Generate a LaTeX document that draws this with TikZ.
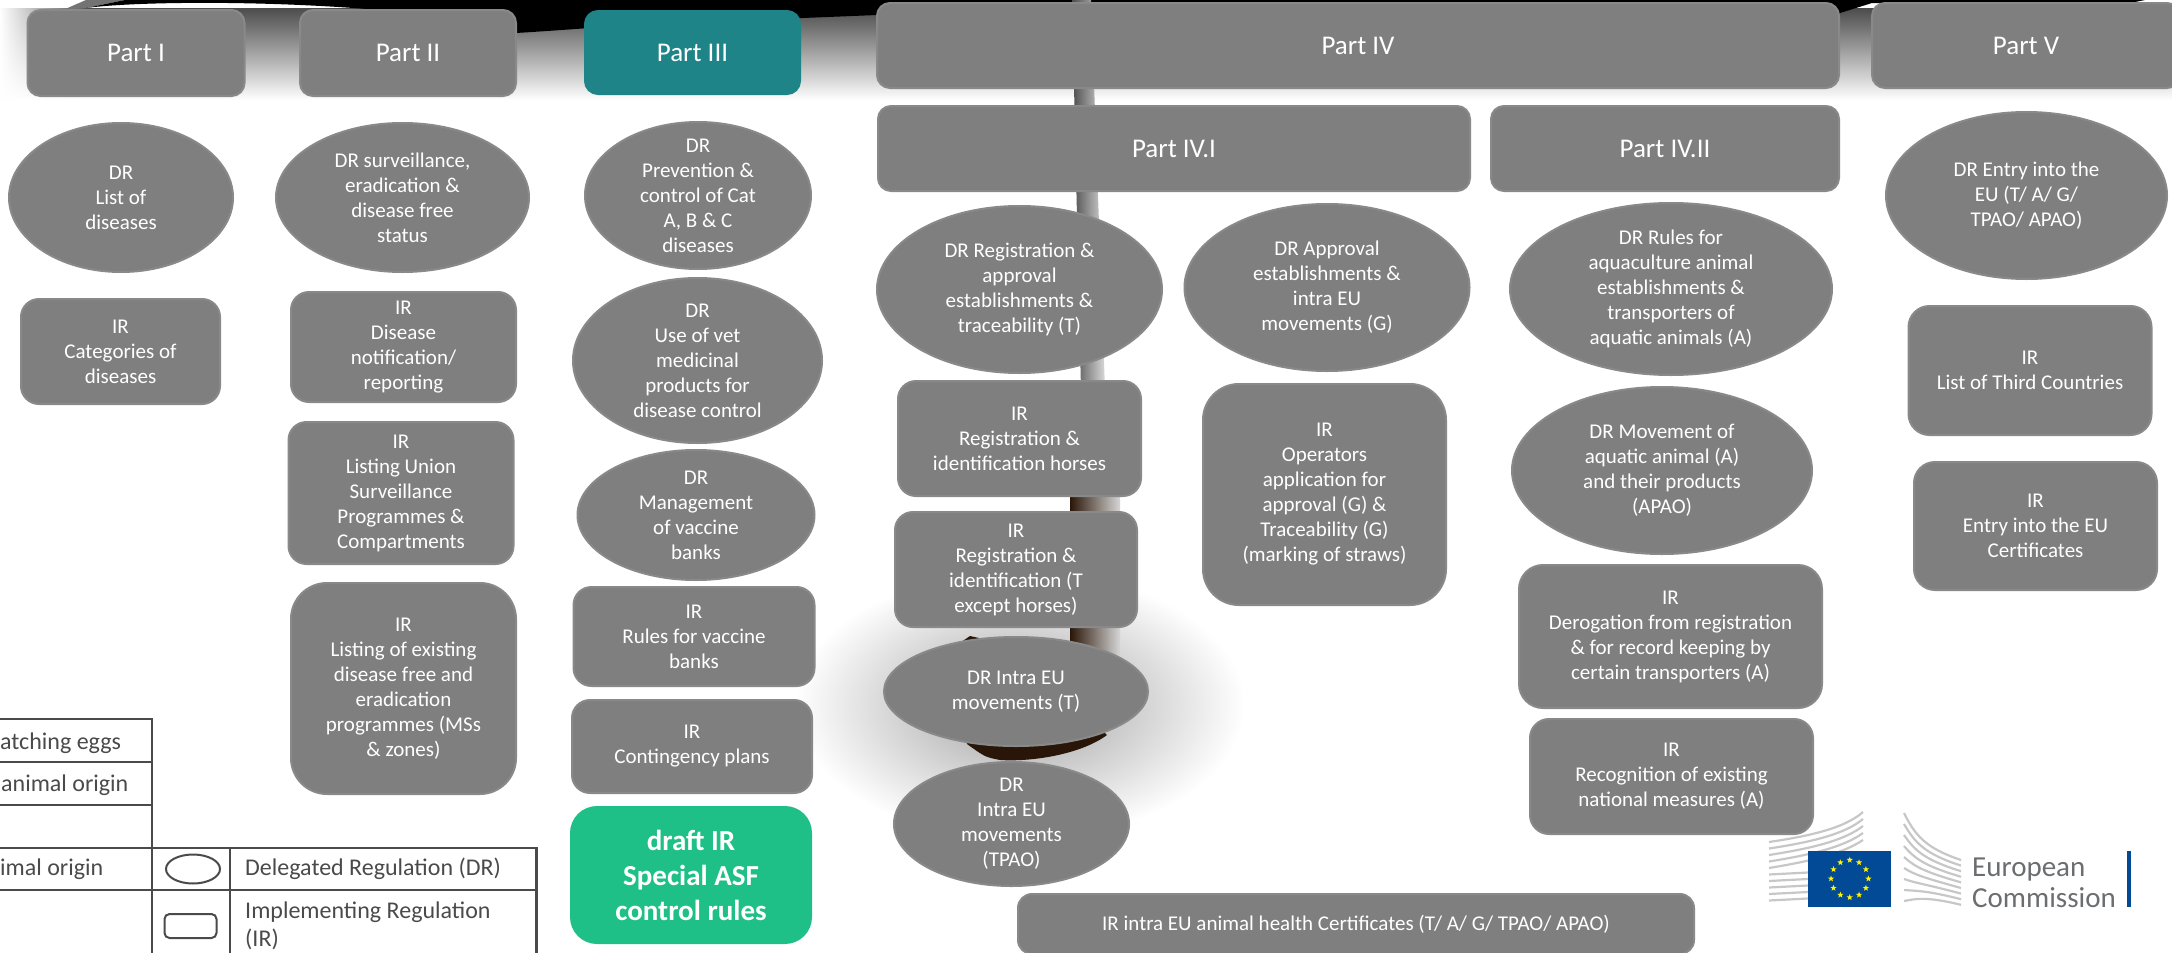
\documentclass[tikz,border=0pt]{standalone}
\usepackage{fontspec}
\setmainfont{Carlito}
\usetikzlibrary{shapes.geometric, fadings}
\definecolor{boxgray}{HTML}{7F7F7F}
\definecolor{boxline}{HTML}{898989}
\definecolor{partteal}{HTML}{1E8488}
\definecolor{draftgreen}{HTML}{1FC088}
\definecolor{tabline}{HTML}{4A4A4A}
\definecolor{eublue}{HTML}{034A96}
\definecolor{eugray}{HTML}{6B6D70}
\definecolor{polebrown}{HTML}{2A1608}

\begin{document}
\begin{tikzpicture}[
        x=1pt, y=-1pt,
        every node/.style={text=white, align=center, font=\fontsize{21}{25}\selectfont},
        partbox/.style={rectangle, rounded corners=13pt, fill=boxgray, draw=boxline, line width=2pt, font=\fontsize{27}{31}\selectfont},
        irnode/.style={rectangle, rounded corners=#1, fill=boxgray, draw=boxline, line width=2pt, inner sep=0pt},
        irnode/.default=18pt,
        drnode/.style={ellipse, fill=boxgray, draw=boxline, line width=2pt, inner sep=-30pt},
        tabtext/.style={text=tabline, anchor=west, align=left, inner sep=0pt, font=\fontsize{24}{28}\selectfont},
        tabrule/.style={tabline, line width=2.4pt},
        eustar/.style={star, star points=5, star point ratio=2.4, fill=yellow, minimum size=6.5pt, inner sep=0pt},
        stripe/.style={black!22, line width=2.2pt}
    ]
        \useasboundingbox (0,0) rectangle (2172,953);

        % Background: shadow at the top
        \shade[top color=black!70, middle color=black!22, bottom color=white] (0,8) rectangle (2172,100);
        \fill[white, path fading=east] (0,0) rectangle (90,110);
        \fill[black!55] (63,10) -- (86,0) -- (125,0) -- (86,8) -- cycle;
        \fill[black] (86,8) .. controls (130,2) and (250,0) .. (367,9)
            .. controls (430,20) and (480,32) .. (516,33)
            .. controls (600,28) and (700,18) .. (803,18)
            -- (877,15) -- (1840,13) -- (1872,3) -- (2130,3) -- (2145,0) -- (125,0) -- cycle;

        % Background: pole and its shadow
        \shade[left color=white, middle color=black!10, right color=white] (920,100) rectangle (1250,620);
        \shade[inner color=black!38, outer color=white] (1020,705) ellipse [x radius=225, y radius=135];
        \shade[left color=black!70, middle color=black!50, right color=black!15] (1072,0) -- (1091,0) -- (1105,390) -- (1081,390) -- cycle;
        \shade[left color=polebrown, middle color=polebrown!80!white, right color=black!16] (1070,480) rectangle (1120,690);
        \fill[polebrown] (957,645) -- (970,636) -- (1010,645) -- (1107,735) .. controls (1080,755) and (1030,762) .. (1000,760) .. controls (985,757) .. (967,744) -- cycle;

        % Part headers
        \node[partbox, minimum width=217pt, minimum height=86pt] (P1) at (136,53) {Part I};
        \node[partbox, minimum width=216pt, minimum height=86pt] (P2) at (408,53) {Part II};
        \node[partbox, fill=partteal, draw=partteal, minimum width=215pt, minimum height=83pt] (P3) at (692.5,52.5) {Part III};
        \node[partbox, minimum width=962pt, minimum height=85pt] (P4) at (1358,45.5) {Part IV};
        \node[partbox, minimum width=308pt, minimum height=85pt] (P5) at (2026,45.5) {Part V};
        \node[partbox, minimum width=592pt, minimum height=85pt] (P41) at (1174,148.5) {Part IV.I};
        \node[partbox, minimum width=348pt, minimum height=85pt] (P42) at (1665,148.5) {Part IV.II};

        % Part I
        \node[drnode, minimum width=224pt, minimum height=149pt] (DR1) at (121,197.5) {DR\\List of\\diseases};
        \node[irnode, minimum width=199pt, minimum height=105pt] (IR1) at (120.5,351.5) {IR\\Categories of\\diseases};

        % Part II
        \node[drnode, minimum width=253pt, minimum height=149pt] (DR2) at (402.5,197.5) {DR surveillance,\\eradication \&\\disease free\\status};
        \node[irnode, minimum width=225pt, minimum height=110pt] (IR2) at (403.5,347) {IR\\Disease\\notification/\\reporting};
        \node[irnode, minimum width=225pt, minimum height=142pt] (IR3) at (401,493) {IR\\Listing Union\\Surveillance\\Programmes \&\\Compartments};
        \node[irnode=36pt, minimum width=225pt, minimum height=211pt] (IR4) at (403.5,688.5) {IR\\Listing of existing\\disease free and\\eradication\\programmes (MSs\\\& zones)};

        % Part III
        \node[drnode, minimum width=226pt, minimum height=147pt] (DR3) at (698,195.5) {DR\\Prevention \&\\control of Cat\\A, B \& C\\diseases};
        \node[drnode, minimum width=249pt, minimum height=165pt] (DR4) at (697.5,360.5) {DR\\Use of vet\\medicinal\\products for\\disease control};
        \node[drnode, minimum width=237pt, minimum height=130pt] (DR5) at (696,515) {DR\\Management\\of vaccine\\banks};
        \node[irnode, minimum width=241pt, minimum height=99pt] (IR5) at (694,636.5) {IR\\Rules for vaccine\\banks};
        \node[irnode, minimum width=240pt, minimum height=93pt] (IR6) at (692,746.5) {IR\\Contingency plans};
        \node[irnode=26pt, fill=draftgreen, draw=draftgreen, minimum width=240pt, minimum height=136pt, font=\bfseries\fontsize{29}{35}\selectfont] (IR7) at (691,875) {draft IR\\Special ASF\\control rules};

        % Part IV.I
        \node[drnode, minimum width=285pt, minimum height=167pt] (DR6) at (1019.5,289.5) {DR Registration \&\\approval\\establishments \&\\traceability (T)};
        \node[drnode, minimum width=285pt, minimum height=167pt] (DR7) at (1327,287.5) {DR Approval\\establishments \&\\intra EU\\movements (G)};
        \node[irnode, minimum width=243pt, minimum height=115pt] (IR8) at (1019.5,438.5) {IR\\Registration \&\\identification horses};
        \node[irnode=36pt, minimum width=243pt, minimum height=221pt] (IR9) at (1324.5,494.5) {IR\\Operators\\application for\\approval (G) \&\\Traceability (G)\\(marking of straws)};
        \node[irnode, minimum width=242pt, minimum height=115pt] (IR10) at (1016,569.5) {IR\\Registration \&\\identification (T\\except horses)};
        \node[drnode, minimum width=264pt, minimum height=109pt] (DR8) at (1016,691.5) {DR Intra EU\\movements (T)};
        \node[drnode, minimum width=235pt, minimum height=124pt] (DR9) at (1011.5,824) {DR\\Intra EU\\movements\\(TPAO)};
        \node[irnode=14pt, minimum width=676pt, minimum height=60pt] (IR11) at (1356,924) {IR intra EU animal health Certificates (T/ A/ G/ TPAO/ APAO)};

        % Part IV.II
        \node[drnode, minimum width=322pt, minimum height=172pt] (DR10) at (1671,289) {DR Rules for\\aquaculture animal\\establishments \&\\transporters of\\aquatic animals (A)};
        \node[drnode, minimum width=300pt, minimum height=167pt] (DR11) at (1662,470.5) {DR Movement of\\aquatic animal (A)\\and their products\\(APAO)};
        \node[irnode=24pt, minimum width=303pt, minimum height=143pt] (IR12) at (1670.5,636.5) {IR\\Derogation from registration\\\& for record keeping by\\certain transporters (A)};
        \node[irnode=19pt, minimum width=283pt, minimum height=115pt] (IR13) at (1671.5,776.5) {IR\\Recognition of existing\\national measures (A)};

        % Part V
        \node[drnode, minimum width=281pt, minimum height=167pt] (DR12) at (2026.5,195.5) {DR Entry into the\\EU (T/ A/ G/\\TPAO/ APAO)};
        \node[irnode=21pt, minimum width=243pt, minimum height=129pt] (IR14) at (2030,370.5) {IR\\List of Third Countries};
        \node[irnode=21pt, minimum width=243pt, minimum height=128pt] (IR15) at (2035.5,526) {IR\\Entry into the EU\\Certificates};

        % Legend table
        \draw[tabrule] (0,719) -- (152,719) -- (152,953);
        \draw[tabrule] (0,762) -- (152,762);
        \draw[tabrule] (0,805) -- (152,805);
        \draw[tabrule] (0,848) -- (536.5,848) -- (536.5,953);
        \draw[tabrule] (0,890) -- (536.5,890);
        \draw[tabrule] (230,848) -- (230,953);
        \node[tabtext] (T1) at (0,743) {atching eggs};
        \node[tabtext] (T2) at (1,785) {animal origin};
        \node[tabtext] (T3) at (0,869) {imal origin};
        \node[tabtext] (T4) at (245,869) {Delegated Regulation (DR)};
        \node[tabtext] (T5) at (245,926) {Implementing Regulation\\(IR)};
        \node[ellipse, draw=tabline, fill=white, line width=2pt, minimum width=54pt, minimum height=29pt] (LDR) at (193,869) {};
        \node[rectangle, rounded corners=5pt, draw=tabline, fill=white, line width=2pt, minimum width=52pt, minimum height=24pt] (LIR) at (190.5,926) {};

        % Logo
        \foreach \i in {0,...,4}
            \draw[stripe] (1769,{842+6.5*\i}) .. controls ({1810+2*\i},{836+6*\i}) and (1845,{828+6*\i}) .. (1863,{812+7*\i});
        \foreach \i in {5,...,9}
            \draw[stripe] (1769,{842+6.5*\i}) -- (1808,{840+6.5*\i});
        \foreach \i in {0,...,8}
            \draw[stripe] (1904,{813+11*\i}) .. controls (1915,{835+8*\i}) and (1925,{848+6*\i}) .. (1961,{860+5.6*\i});
        \fill[eublue] (1808,851) rectangle (1891,907);
        \foreach \a in {0,30,...,330}
            \node[eustar] (S\a) at ([shift={(\a:18.7)}]1849.7,878.7) {};
        \node[text=eugray, anchor=west, inner sep=0pt, font=\fontsize{29}{35}\selectfont] (EC1) at (1972,870) {European};
        \node[text=eugray, anchor=west, inner sep=0pt, font=\fontsize{29}{35}\selectfont] (EC2) at (1972,898) {Commission};
        \fill[eublue] (2127,851) rectangle (2131,907);
    \end{tikzpicture}
\end{document}
